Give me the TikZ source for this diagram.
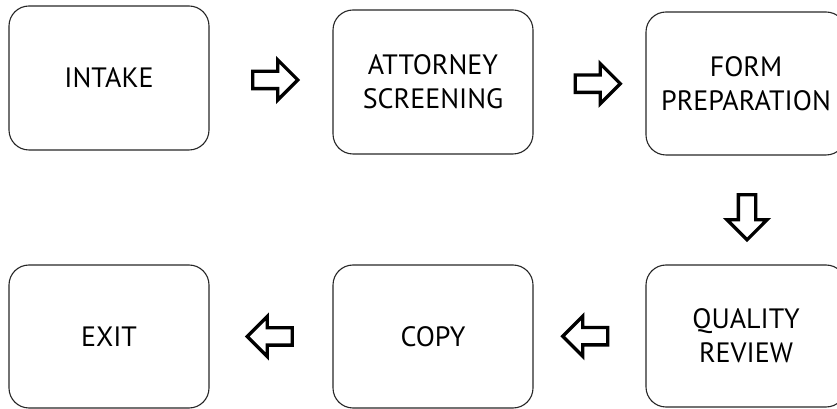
\documentclass[tikz,border=0pt]{standalone}
\usepackage{fontspec}
\setmainfont{PT Sans}
\usetikzlibrary{shapes.arrows,positioning,calc}
\tikzset
{
    stage/.style={rectangle, rounded corners=20pt, draw=black!85, line width=1.1pt, minimum width=200pt, minimum height=144pt, align=center, font=\fontsize{28}{34}\selectfont},
    flow/.style={single arrow, draw=black, fill=white, line width=3.3pt, minimum height=45pt, minimum width=37pt, single arrow head extend=11.5pt, single arrow tip angle=90, inner sep=7pt, shape border rotate=#1},
    flow/.default=0
}

\begin{document}
\begin{tikzpicture}[x=1pt, y=1pt, node distance=324pt]
	\useasboundingbox (0,0) rectangle (837,409);
	\node (intake) [stage] at (109,331) {INTAKE};
	\node (screen) [stage, right of=intake, yshift=-4pt] {ATTORNEY\\SCREENING};
	\node (form)   [stage, right of=screen, xshift=-11pt, yshift=-1.5pt, minimum height=143pt] {FORM\\PREPARATION};
	\node (review) [stage, minimum height=142pt] at (746,73) {QUALITY\\REVIEW};
	\node (copy)   [stage, left of=review, xshift=11pt, yshift=-0.5pt, minimum height=143pt] {COPY};
	\node (exit)   [stage, left of=copy, minimum height=143pt] {EXIT};

	\node (a1) [flow] at ($(intake.east)!0.5!(screen.west)$) {};
	\node (a2) [flow] at ($(screen.east)!0.5!(form.west)+(4,-1)$) {};
	\node (a3) [flow=270] at ($(form.south)!0.5!(review.north)+(1,-3)$) {};
	\node (a4) [flow=180] at ($(review.west)!0.5!(copy.east)$) {};
	\node (a5) [flow=180] at ($(copy.west)!0.5!(exit.east)+(3,0)$) {};
\end{tikzpicture}
\end{document}
